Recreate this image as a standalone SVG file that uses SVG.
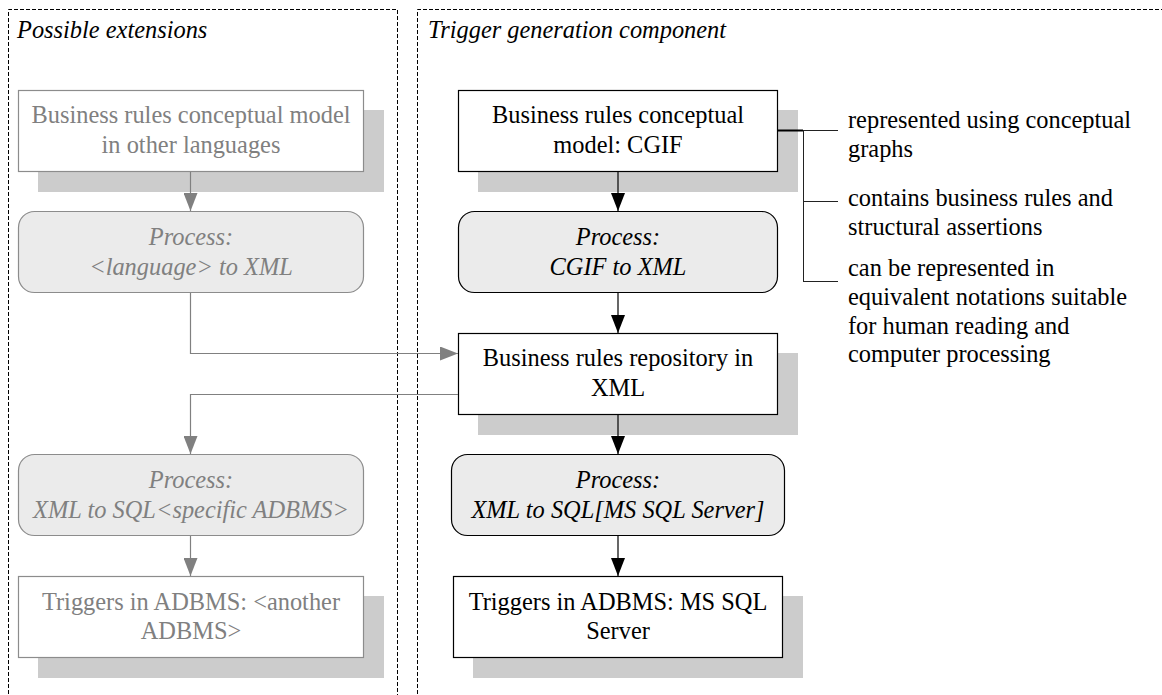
<svg xmlns="http://www.w3.org/2000/svg" width="1162" height="695" viewBox="0 0 1162 695">
  <style>
    .blk { fill: #000; }
    .gry { fill: #808080; }
    .it { font-style: italic; }
    .mid { text-anchor: middle; }
    .shadow { fill: #cccccc; stroke: none; }
    .boxB { fill: #ffffff; stroke: #000; stroke-width: 1.2; }
    .boxG { fill: #ffffff; stroke: #8c8c8c; stroke-width: 1.2; }
    .procB { fill: #ebebeb; stroke: #000; stroke-width: 1.2; }
    .procG { fill: #ebebeb; stroke: #8c8c8c; stroke-width: 1.2; }
    .frame { fill: none; stroke: #000; stroke-width: 1; stroke-dasharray: 4 2; }
    .cB { fill: none; stroke: #000; stroke-width: 1.2; }
    .cG { fill: none; stroke: #808080; stroke-width: 1.2; }
    .br { fill: none; stroke: #222; stroke-width: 1; }
  </style>
  <defs>
    <marker id="arrB" markerUnits="userSpaceOnUse" viewBox="0 0 18 14" refX="18" refY="7" markerWidth="18" markerHeight="14" orient="auto">
      <path d="M0,0 L18,7 L0,14 Z" fill="#000"/>
    </marker>
    <marker id="arrG" markerUnits="userSpaceOnUse" viewBox="0 0 18 14" refX="18" refY="7" markerWidth="18" markerHeight="14" orient="auto">
      <path d="M0,0 L18,7 L0,14 Z" fill="#808080"/>
    </marker>
  </defs>
  <rect width="1162" height="695" fill="#ffffff"/>

  <g id="frame-extensions">
    <path class="frame" d="M8.5,700 L8.5,9.5 L397.5,9.5 L397.5,700"/>
    <text class="blk it" font-family="Liberation Serif, serif" font-size="24.4" x="17" y="38">Possible extensions</text>
  </g>
  <g id="frame-trigger">
    <path class="frame" d="M417.5,700 L417.5,9.5 L1170,9.5"/>
    <text class="blk it" font-family="Liberation Serif, serif" font-size="24.4" x="428" y="38">Trigger generation component</text>
  </g>

  <g id="node-other-lang">
    <rect class="shadow" x="38" y="110" width="346" height="82"/>
    <rect class="boxG" x="18.5" y="90.5" width="345" height="81"/>
    <text class="gry mid" font-family="Liberation Serif, serif" font-size="24.4" x="191" y="123">Business rules conceptual model</text>
    <text class="gry mid" font-family="Liberation Serif, serif" font-size="24.4" x="191" y="153">in other languages</text>
  </g>
  <g id="node-lang-to-xml">
    <rect class="procG" x="18.5" y="211.5" width="345" height="81" rx="16" ry="16"/>
    <text class="gry mid it" font-family="Liberation Serif, serif" font-size="24.4" x="191" y="245">Process:</text>
    <text class="gry mid it" font-family="Liberation Serif, serif" font-size="24.4" x="191" y="275">&lt;language&gt; to XML</text>
  </g>
  <g id="node-xml-to-sql-generic">
    <rect class="procG" x="18.5" y="454.5" width="345" height="81" rx="16" ry="16"/>
    <text class="gry mid it" font-family="Liberation Serif, serif" font-size="24.4" x="191" y="488">Process:</text>
    <text class="gry mid it" font-family="Liberation Serif, serif" font-size="24.4" x="191" y="518">XML to SQL&lt;specific ADBMS&gt;</text>
  </g>
  <g id="node-triggers-other">
    <rect class="shadow" x="38" y="596" width="346" height="82"/>
    <rect class="boxG" x="18.5" y="576.5" width="345" height="81"/>
    <text class="gry mid" font-family="Liberation Serif, serif" font-size="24.4" x="191" y="610">Triggers in ADBMS: &lt;another</text>
    <text class="gry mid" font-family="Liberation Serif, serif" font-size="24.4" x="191" y="639">ADBMS&gt;</text>
  </g>

  <g id="node-cgif">
    <rect class="shadow" x="478" y="110" width="320" height="82"/>
    <rect class="boxB" x="458.5" y="90.5" width="319" height="81"/>
    <text class="blk mid" font-family="Liberation Serif, serif" font-size="24.4" x="618" y="123">Business rules conceptual</text>
    <text class="blk mid" font-family="Liberation Serif, serif" font-size="24.4" x="618" y="153">model: CGIF</text>
  </g>
  <g id="node-cgif-to-xml">
    <rect class="procB" x="458.5" y="211.5" width="319" height="81" rx="16" ry="16"/>
    <text class="blk mid it" font-family="Liberation Serif, serif" font-size="24.4" x="618" y="245">Process:</text>
    <text class="blk mid it" font-family="Liberation Serif, serif" font-size="24.4" x="618" y="275">CGIF to XML</text>
  </g>
  <g id="node-repository">
    <rect class="shadow" x="478" y="353" width="320" height="82"/>
    <rect class="boxB" x="458.5" y="333.5" width="319" height="81"/>
    <text class="blk mid" font-family="Liberation Serif, serif" font-size="24.4" x="618" y="366">Business rules repository in</text>
    <text class="blk mid" font-family="Liberation Serif, serif" font-size="24.4" x="618" y="396">XML</text>
  </g>
  <g id="node-xml-to-sql-mssql">
    <rect class="procB" x="451.5" y="454.5" width="333" height="81" rx="16" ry="16"/>
    <text class="blk mid it" font-family="Liberation Serif, serif" font-size="24.4" x="618" y="488">Process:</text>
    <text class="blk mid it" font-family="Liberation Serif, serif" font-size="24.4" x="618" y="518">XML to SQL[MS SQL Server]</text>
  </g>
  <g id="node-triggers-mssql">
    <rect class="shadow" x="473" y="596" width="330" height="82"/>
    <rect class="boxB" x="453.5" y="576.5" width="329" height="81"/>
    <text class="blk mid" font-family="Liberation Serif, serif" font-size="24.4" x="618" y="610">Triggers in ADBMS: MS SQL</text>
    <text class="blk mid" font-family="Liberation Serif, serif" font-size="24.4" x="618" y="639">Server</text>
  </g>

  <g id="annotations">
    <text class="blk" font-family="Liberation Serif, serif" font-size="24.4" x="848" y="128">represented using conceptual</text>
    <text class="blk" font-family="Liberation Serif, serif" font-size="24.4" x="848" y="157">graphs</text>
    <text class="blk" font-family="Liberation Serif, serif" font-size="24.4" x="848" y="206">contains business rules and</text>
    <text class="blk" font-family="Liberation Serif, serif" font-size="24.4" x="848" y="235">structural assertions</text>
    <text class="blk" font-family="Liberation Serif, serif" font-size="24.4" x="848" y="276">can be represented in</text>
    <text class="blk" font-family="Liberation Serif, serif" font-size="24.4" x="848" y="305">equivalent notations suitable</text>
    <text class="blk" font-family="Liberation Serif, serif" font-size="24.4" x="848" y="334">for human reading and</text>
    <text class="blk" font-family="Liberation Serif, serif" font-size="24.4" x="848" y="362">computer processing</text>
  </g>

  <g id="connectors">
    <line class="cG" x1="190.5" y1="172" x2="190.5" y2="211" marker-end="url(#arrG)"/>
    <path class="cG" d="M190.5,293 L190.5,353.5 L458,353.5" marker-end="url(#arrG)"/>
    <path class="cG" d="M458,394.5 L190.5,394.5 L190.5,454" marker-end="url(#arrG)"/>
    <line class="cG" x1="190.5" y1="536" x2="190.5" y2="576" marker-end="url(#arrG)"/>

    <line class="cB" x1="618" y1="172" x2="618" y2="211" marker-end="url(#arrB)"/>
    <line class="cB" x1="618" y1="293" x2="618" y2="333" marker-end="url(#arrB)"/>
    <line class="cB" x1="618" y1="415" x2="618" y2="454" marker-end="url(#arrB)"/>
    <line class="cB" x1="618" y1="536" x2="618" y2="576" marker-end="url(#arrB)"/>

    <line x1="778" y1="130.5" x2="803" y2="130.5" stroke="#000" stroke-width="2"/>
    <path class="br" d="M803,130.5 L838,130.5 M803.5,130.5 L803.5,281.5 M803,201.5 L838,201.5 M803,281.5 L838,281.5"/>
  </g>
</svg>
